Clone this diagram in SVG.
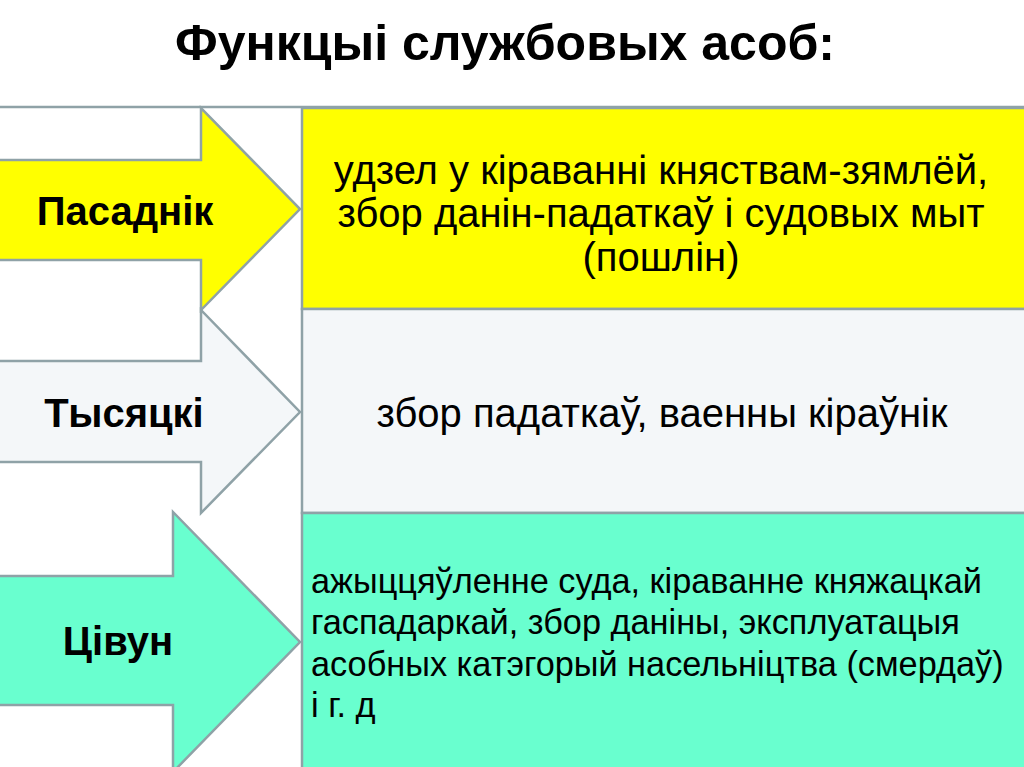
<svg xmlns="http://www.w3.org/2000/svg" width="1024" height="767" viewBox="0 0 1024 767">
  <style>
    .grid { stroke: #8fa2a7; stroke-width: 2.5; fill: none; }
    .cell { stroke: #8fa2a7; stroke-width: 2.5; }
    .arrow { stroke: #8fa2a7; stroke-width: 2.5; stroke-linejoin: miter; }
    .title { font-family: "Liberation Sans", Arial, sans-serif; font-weight: bold; font-size: 50px; fill: #000; }
    .label { font-family: "Liberation Sans", Arial, sans-serif; font-weight: bold; font-size: 40px; fill: #000; text-anchor: middle; }
    .body { font-family: "Liberation Sans", Arial, sans-serif; font-size: 40px; fill: #000; }
    .body2 { font-family: "Liberation Sans", Arial, sans-serif; font-size: 34.3px; fill: #000; }
  </style>
  <rect x="0" y="0" width="1024" height="767" fill="#ffffff"/>
  <g id="title">
    <text class="title" x="505" y="60" text-anchor="middle">Функцыі службовых асоб:</text>
  </g>
  <g id="grid">
    <line class="grid" x1="0" y1="107" x2="1024" y2="107"/>
  </g>
  <g id="cell-pasadnik">
    <rect class="cell" x="302" y="108" width="724" height="201" fill="#ffff00"/>
    <text class="body" x="661" y="184" text-anchor="middle">удзел у кіраванні княствам-зямлёй,</text>
    <text class="body" x="661" y="227" text-anchor="middle">збор данін-падаткаў і судовых мыт</text>
    <text class="body" x="661" y="271" text-anchor="middle">(пошлін)</text>
  </g>
  <g id="cell-tysiacki">
    <rect class="cell" x="302" y="309" width="724" height="204" fill="#f4f7f9"/>
    <text class="body" x="662" y="427" text-anchor="middle">збор падаткаў, ваенны кіраўнік</text>
  </g>
  <g id="cell-tsivun">
    <rect class="cell" x="302" y="513" width="724" height="260" fill="#69ffcf"/>
    <text class="body2" x="311" y="593">ажыццяўленне суда, кіраванне княжацкай</text>
    <text class="body2" x="311" y="634">гаспадаркай, збор даніны, эксплуатацыя</text>
    <text class="body2" x="311" y="676">асобных катэгорый насельніцтва (смердаў)</text>
    <text class="body2" x="311" y="717">і г. д</text>
  </g>
  <g id="arrow-pasadnik">
    <polygon class="arrow" fill="#ffff00" points="-5,160 201,160 201,108 300,209 201,310 201,260 -5,260"/>
    <text class="label" x="125" y="225">Пасаднік</text>
  </g>
  <g id="arrow-tysiacki">
    <polygon class="arrow" fill="#f4f7f9" points="-5,361 201,361 201,310 300,412 201,513 201,462 -5,462"/>
    <text class="label" x="124" y="427">Тысяцкі</text>
  </g>
  <g id="arrow-tsivun">
    <polygon class="arrow" fill="#69ffcf" points="-5,576 173,576 173,512 300,642 173,772 173,705 -5,705"/>
    <text class="label" x="118" y="655">Цівун</text>
  </g>
</svg>
